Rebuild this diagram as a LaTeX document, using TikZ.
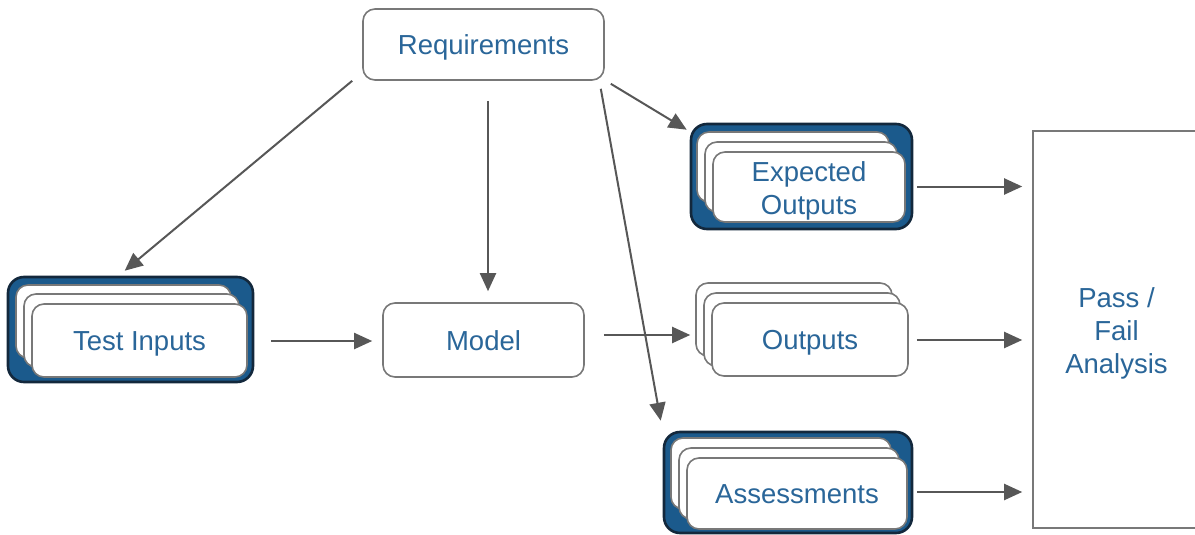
\documentclass[tikz,border=0pt]{standalone}
\usepackage{fontspec}
\setmainfont{Liberation Sans}
\usetikzlibrary{arrows.meta,calc}
\definecolor{txtblue}{HTML}{2A6699}
\definecolor{navy}{HTML}{1B5A8C}
\definecolor{darkedge}{HTML}{13283C}
\definecolor{boxgray}{HTML}{787878}
\definecolor{arrgray}{HTML}{575757}
\newcommand\lowr[1]{\raisebox{-3.5pt}[\height][\depth]{#1}}
\begin{document}
\begin{tikzpicture}[x=1pt,y=-1pt,
  lbl/.style={text=txtblue, font=\fontsize{27.5pt}{33pt}\selectfont, align=center},
  box/.style={draw=boxgray, line width=1.6pt, rounded corners=12pt, fill=white, inner sep=0pt, lbl},
  oneline/.style={text height=20pt, text depth=0pt},
  outerbox/.style={draw=darkedge, line width=2.6pt, rounded corners=16pt, fill=navy, inner sep=0pt},
  conn/.style={draw=arrgray, line width=2pt, -{Triangle[length=18pt,width=16pt]}}
]
\useasboundingbox (0,0) rectangle (1195,535);

% Requirements and Model
\node[box, oneline, minimum width=241pt, minimum height=71pt] (req) at (483.5,44.5) {Requirements};
\node[box, oneline, minimum width=201pt, minimum height=74pt] (model) at (483.5,340) {Model};

% Test Inputs stack
\node[outerbox, minimum width=245pt, minimum height=105pt] (tiout) at (130.5,329.5) {};
\node[box, minimum width=215pt, minimum height=73pt] (ti3) at (123.5,321.5) {};
\node[box, minimum width=215pt, minimum height=73pt] (ti2) at (131.5,330.5) {};
\node[box, oneline, minimum width=215pt, minimum height=73pt] (ti) at (139.5,340.5) {Test Inputs};

% Expected Outputs stack
\node[outerbox, minimum width=221pt, minimum height=105pt] (eoout) at (801.5,176.5) {};
\node[box, minimum width=192pt, minimum height=70pt] (eo3) at (793,167) {};
\node[box, minimum width=192pt, minimum height=70pt] (eo2) at (801,177) {};
\node[box, minimum width=192pt, minimum height=70pt] (eo) at (809,187) {\lowr{Expected}\\\lowr{Outputs}};

% Outputs stack
\node[box, minimum width=196pt, minimum height=73pt] (op3) at (794,319.5) {};
\node[box, minimum width=196pt, minimum height=73pt] (op2) at (802,329.5) {};
\node[box, oneline, minimum width=196pt, minimum height=73pt] (op) at (810,339.5) {Outputs};

% Assessments stack
\node[outerbox, minimum width=248pt, minimum height=101pt] (asout) at (788,482.5) {};
\node[box, minimum width=220pt, minimum height=71pt] (as3) at (781,473.5) {};
\node[box, minimum width=220pt, minimum height=71pt] (as2) at (789,483.5) {};
\node[box, oneline, minimum width=220pt, minimum height=71pt] (as) at (797,493.5) {Assessments};

% Pass / Fail
\node[draw=boxgray, line width=1.6pt, fill=white, inner sep=0pt, lbl, minimum width=167pt, minimum height=397pt] (pf) at (1116.5,329.5) {\lowr{Pass /}\\\lowr{Fail}\\\lowr{Analysis}};

% connectors
\draw[conn] ($(req.south west)+(-10,0)$) -- ($(tiout.north west)+(118,-5)$);
\draw[conn] ($(req.south)+(4.5,20)$) -- ($(model.north)+(4.5,-11)$);
\draw[conn] ($(req.south east)+(6,3)$) -- ($(eoout.north west)+(-3,7)$);
\draw[conn] ($(req.south east)+(-4,8)$) -- ($(asout.north west)+(-2,-10)$);
\draw[conn] ($(tiout.east)+(17,11.5)$) -- ($(model.west)+(-10,1)$);
\draw[conn] ($(model.east)+(19,-5)$) -- ($(op3.west)+(-5,15.5)$);
\draw[conn] ($(eoout.east)+(4,10)$) -- ($(pf.west |- eoout.east)+(-10,10)$);
\draw[conn] ($(op.east)+(8,0.5)$) -- ($(pf.west |- op.east)+(-10,0.5)$);
\draw[conn] ($(asout.east)+(4,9.5)$) -- ($(pf.west |- asout.east)+(-10,9.5)$);
\end{tikzpicture}
\end{document}
